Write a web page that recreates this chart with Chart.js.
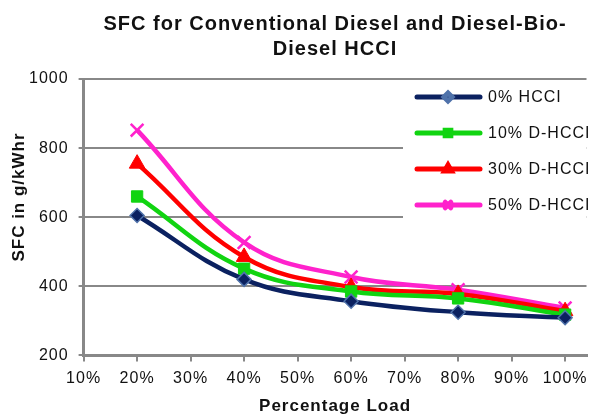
<!DOCTYPE html>
<html>
<head>
<meta charset="utf-8">
<script src="https://cdn.jsdelivr.net/npm/chart.js@4.4.1/dist/chart.umd.min.js"></script>
<style>
  body { margin: 0; background: #fff; }
  #wrap { width: 598px; height: 417px; }
</style>
</head>
<body>
<div id="wrap"><canvas id="plot"></canvas></div>
<script>
// percentage load (x) and SFC in g/kWhr for each blend
const loads = [20, 40, 60, 80, 100];
const hcci0 = [605, 420, 357, 325, 309];
const dhcci10 = [660, 451, 385, 365, 318];
const dhcci30 = [755, 485, 398, 378, 328];
const dhcci50 = [852, 527, 427, 390, 337];
const seriesNames = ["0% HCCI", "10% D-HCCI", "30% D-HCCI", "50% D-HCCI"];
const yTitle = "SFC in g/kWhr";

const FONT = "'Liberation Sans', Arial, sans-serif";
const toPoints = (vals) => vals.map((v, i) => ({ x: loads[i], y: v }));

// the original text is drawn slightly spread out
const spacing = {
  id: "spacing",
  beforeUpdate(chart) { chart.ctx.letterSpacing = "1px"; },
  beforeDraw(chart) { chart.ctx.letterSpacing = "1px"; },
};

// legend inside the plot (top right) and the y title, drawn by hand
const insideLegend = {
  id: "insideLegend",
  afterDatasetsDraw(chart) {
    const ctx = chart.ctx;
    const area = chart.chartArea;
    ctx.save();
    ctx.fillStyle = "#fff";
    ctx.fillRect(403, area.top + 2, area.right - 403, 146);
    chart.data.datasets.forEach((ds, i) => {
      const y = 97 + i * 36;
      ctx.strokeStyle = ds.borderColor;
      ctx.lineWidth = 5;
      ctx.lineCap = "round";
      ctx.beginPath();
      ctx.moveTo(417, y);
      ctx.lineTo(480, y);
      ctx.stroke();
      ctx.fillStyle = ds.pointBackgroundColor;
      ctx.strokeStyle = ds.pointBorderColor;
      Chart.helpers.drawPoint(ctx, {
        pointStyle: ds.pointStyle,
        radius: 4,
        borderWidth: 2,
        rotation: 0,
      }, 448, y);
      ctx.fillStyle = "#111";
      ctx.font = "16px " + FONT;
      ctx.textBaseline = "middle";
      ctx.fillText(ds.label, 488, y + 1);
    });
    ctx.restore();

    ctx.save();
    ctx.translate(19, 197);
    ctx.rotate(-Math.PI / 2);
    ctx.fillStyle = "#111";
    ctx.font = "bold 17px " + FONT;
    ctx.textAlign = "center";
    ctx.textBaseline = "middle";
    ctx.fillText(yTitle, 0, 0);
    ctx.restore();
  },
};

new Chart(document.getElementById("plot"), {
  type: "line",
  data: {
    datasets: [
      {
        label: seriesNames[0],
        data: toPoints(hcci0),
        borderColor: "#0b2160",
        pointBackgroundColor: "#0b2160",
        pointBorderColor: "#4f72aa",
        pointStyle: "rectRot",
        pointRadius: 7,
        pointBorderWidth: 1.5,
      },
      {
        label: seriesNames[1],
        data: toPoints(dhcci10),
        borderColor: "#11d411",
        pointBackgroundColor: "#11d411",
        pointBorderColor: "#11d411",
        pointStyle: "rect",
        pointRadius: 8,
        pointBorderWidth: 1,
      },
      {
        label: seriesNames[2],
        data: toPoints(dhcci30),
        borderColor: "#ff0000",
        pointBackgroundColor: "#ff0000",
        pointBorderColor: "#ff0000",
        pointStyle: "triangle",
        pointRadius: 9,
        pointBorderWidth: 1,
      },
      {
        label: seriesNames[3],
        data: toPoints(dhcci50),
        borderColor: "#ff22cc",
        pointBackgroundColor: "#ff22cc",
        pointBorderColor: "#ff22cc",
        pointStyle: "crossRot",
        pointRadius: 9,
        pointBorderWidth: 2.5,
      },
    ],
  },
  options: {
    responsive: true,
    maintainAspectRatio: false,
    animation: false,
    datasets: {
      line: { borderWidth: 4.5, tension: 0.4, fill: false },
    },
    layout: { padding: { left: 19, right: 6, top: 4, bottom: 0 } },
    plugins: {
      legend: { display: false },
      tooltip: { enabled: false },
      title: {
        display: true,
        fullSize: false,
        text: ["SFC for Conventional Diesel and Diesel-Bio-", "Diesel HCCI"],
        color: "#111",
        font: { family: FONT, size: 20, weight: "bold", lineHeight: 1.25 },
        padding: { top: 8, bottom: 17 },
      },
    },
    scales: {
      x: {
        type: "linear",
        min: 10,
        max: 104,
        border: { color: "#888", width: 3 },
        grid: { drawOnChartArea: false, color: "#888", lineWidth: 2, tickLength: 6 },
        ticks: {
          stepSize: 10,
          includeBounds: false,
          color: "#111",
          padding: 8,
          font: { family: FONT, size: 16 },
          callback: (v) => v + "%",
          maxRotation: 0,
        },
        title: {
          display: true,
          text: "Percentage Load",
          color: "#111",
          font: { family: FONT, size: 17, weight: "bold" },
          padding: { top: 0, bottom: 0 },
        },
      },
      y: {
        min: 200,
        max: 1000,
        border: { color: "#888", width: 3 },
        grid: { color: "#888", lineWidth: 2, tickLength: 5 },
        ticks: {
          stepSize: 200,
          color: "#111",
          padding: 10,
          font: { family: FONT, size: 16 },
          callback: (v) => String(v),
        },
      },
    },
  },
  plugins: [spacing, insideLegend],
});
</script>
</body>
</html>
